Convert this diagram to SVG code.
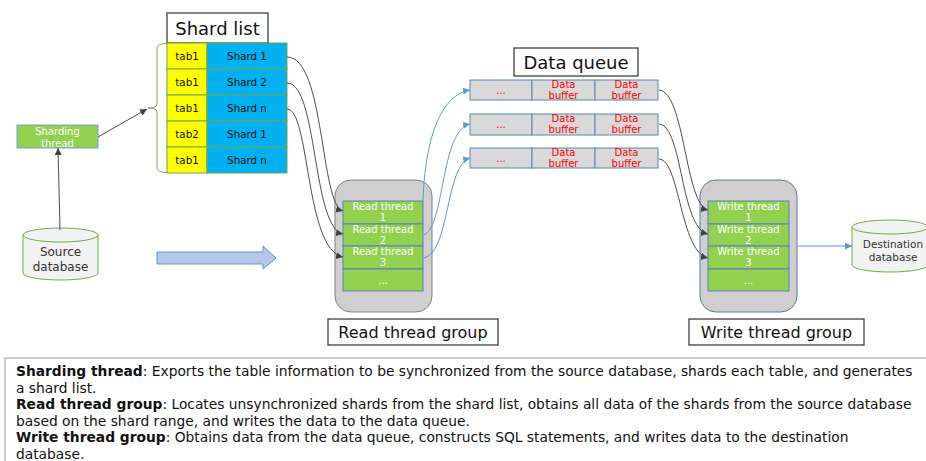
<svg xmlns="http://www.w3.org/2000/svg" width="926" height="461" viewBox="0 0 926 461">
<style>
text{font-family:"DejaVu Sans","Liberation Sans",sans-serif;}
.title{font-size:18px;fill:#111;text-anchor:middle;}
.lbl{font-size:16px;fill:#111;text-anchor:middle;}
.cell{font-size:10.3px;fill:#111;text-anchor:middle;}
.wt{font-size:10px;fill:#fff;text-anchor:middle;}
.red{font-size:10px;fill:#ff0000;text-anchor:middle;}
.db{fill:#333;text-anchor:middle;}
.tbox{fill:#fff;stroke:#404040;stroke-width:1.3;}
.yel{fill:#ffff00;stroke:#6aa84f;stroke-width:1;}
.blu{fill:#00b0f0;stroke:#6aa84f;stroke-width:1;}
.grn{fill:#92d050;stroke:#5b7fbf;stroke-width:1;}
.q{fill:#d9d9d9;stroke:#5b86b8;stroke-width:1;}
.cyl{fill:#f2f2f2;stroke:#70ad47;stroke-width:1;}
.dk{fill:none;stroke:#4d4d4d;stroke-width:1;}
.bl{fill:none;stroke:#5b9bd5;stroke-width:1;}
.desc{font-size:13.8px;fill:#111;}
.b{font-weight:bold;}
</style>
<defs>
<marker id="ad" viewBox="0 0 10 10" refX="10" refY="5" markerWidth="7" markerHeight="7" markerUnits="userSpaceOnUse" orient="auto"><path d="M0,0L10,5L0,10z" fill="#404040"/></marker>
<marker id="ab" viewBox="0 0 10 10" refX="10" refY="5" markerWidth="7" markerHeight="7" markerUnits="userSpaceOnUse" orient="auto"><path d="M0,0L10,5L0,10z" fill="#5b9bd5"/></marker>
</defs>

<g id="shard-list">
<rect class="tbox" x="167" y="13" width="101" height="30"/>
<text class="title" x="217.5" y="35">Shard list</text>
<path d="M167,43.5 Q157,43.5 157,48 L157,104 Q157,108 148,108 Q157,108 157,112 L157,168 Q157,172.5 167,172.5" fill="none" stroke="#70ad47" stroke-width="1"/>
<rect class="yel" x="167" y="43" width="40" height="26"/><rect class="blu" x="207" y="43" width="80" height="26"/>
<rect class="yel" x="167" y="69" width="40" height="26"/><rect class="blu" x="207" y="69" width="80" height="26"/>
<rect class="yel" x="167" y="95" width="40" height="26"/><rect class="blu" x="207" y="95" width="80" height="26"/>
<rect class="yel" x="167" y="121" width="40" height="26"/><rect class="blu" x="207" y="121" width="80" height="26"/>
<rect class="yel" x="167" y="147" width="40" height="26"/><rect class="blu" x="207" y="147" width="80" height="26"/>
<text class="cell" x="187" y="60">tab1</text><text class="cell" x="247" y="60">Shard 1</text>
<text class="cell" x="187" y="86">tab1</text><text class="cell" x="247" y="86">Shard 2</text>
<text class="cell" x="187" y="112">tab1</text><text class="cell" x="247" y="112">Shard n</text>
<text class="cell" x="187" y="138">tab2</text><text class="cell" x="247" y="138">Shard 1</text>
<text class="cell" x="187" y="164">tab1</text><text class="cell" x="247" y="164">Shard n</text>
</g>

<g id="sharding-thread">
<rect x="17" y="125" width="81" height="23" fill="#92d050" stroke="#7f9fcf" stroke-width="1"/>
<text class="wt" x="57.5" y="134.5">Sharding</text>
<text class="wt" x="57.5" y="146.5">thread</text>
</g>

<g id="source-database">
<path class="cyl" d="M23,235 L23,273 A37.5,7 0 0 0 98,273 L98,235 A37.5,7 0 0 0 23,235 Z"/>
<path class="cyl" d="M23,235 A37.5,7 0 0 0 98,235" fill="none"/>
<text class="db" x="60.5" y="255.5" font-size="12">Source</text>
<text class="db" x="60.5" y="270.5" font-size="12">database</text>
</g>

<g id="flow-arrow">
<path d="M157,252 L263,252 L263,246 L276,258 L263,269 L263,264 L157,264 Z" fill="#b4c7e7" stroke="#6d8fc7" stroke-width="1"/>
</g>

<g id="read-thread-group">
<rect x="335" y="180" width="97" height="132" rx="16" fill="#d0cece" stroke="#808080" stroke-width="1"/>
<rect class="grn" x="343" y="201" width="80" height="23"/>
<rect class="grn" x="343" y="224" width="80" height="22"/>
<rect class="grn" x="343" y="246" width="80" height="23"/>
<rect class="grn" x="343" y="269" width="80" height="22"/>
<text class="wt" x="383" y="210">Read thread</text><text class="wt" x="383" y="221">1</text>
<text class="wt" x="383" y="232.5">Read thread</text><text class="wt" x="383" y="243.5">2</text>
<text class="wt" x="383" y="255">Read thread</text><text class="wt" x="383" y="266">3</text>
<text class="wt" x="383" y="284">...</text>
<rect class="tbox" x="328" y="319" width="170" height="26"/>
<text class="lbl" x="413" y="338">Read thread group</text>
</g>

<g id="data-queue">
<rect class="tbox" x="514" y="48" width="124" height="28"/>
<text class="title" x="576" y="68.5">Data queue</text>
<rect class="q" x="470" y="80" width="62" height="20"/><rect class="q" x="532" y="80" width="63" height="20"/><rect class="q" x="595" y="80" width="63" height="20"/>
<rect class="q" x="470" y="114" width="62" height="21"/><rect class="q" x="532" y="114" width="63" height="21"/><rect class="q" x="595" y="114" width="63" height="21"/>
<rect class="q" x="470" y="148" width="62" height="20"/><rect class="q" x="532" y="148" width="63" height="20"/><rect class="q" x="595" y="148" width="63" height="20"/>
<text class="red" x="501" y="94">...</text><text class="red" x="563.5" y="87.5">Data</text><text class="red" x="563.5" y="98.5">buffer</text><text class="red" x="626.5" y="87.5">Data</text><text class="red" x="626.5" y="98.5">buffer</text>
<text class="red" x="501" y="128">...</text><text class="red" x="563.5" y="122">Data</text><text class="red" x="563.5" y="133">buffer</text><text class="red" x="626.5" y="122">Data</text><text class="red" x="626.5" y="133">buffer</text>
<text class="red" x="501" y="162">...</text><text class="red" x="563.5" y="155.5">Data</text><text class="red" x="563.5" y="166.5">buffer</text><text class="red" x="626.5" y="155.5">Data</text><text class="red" x="626.5" y="166.5">buffer</text>
</g>

<g id="write-thread-group">
<rect x="700" y="180" width="97" height="132" rx="16" fill="#d0cece" stroke="#5b7ba8" stroke-width="1"/>
<rect class="grn" x="708" y="201" width="81" height="23"/>
<rect class="grn" x="708" y="224" width="81" height="22"/>
<rect class="grn" x="708" y="246" width="81" height="23"/>
<rect class="grn" x="708" y="269" width="81" height="22"/>
<text class="wt" x="748.5" y="210">Write thread</text><text class="wt" x="748.5" y="221">1</text>
<text class="wt" x="748.5" y="232.5">Write thread</text><text class="wt" x="748.5" y="243.5">2</text>
<text class="wt" x="748.5" y="255">Write thread</text><text class="wt" x="748.5" y="266">3</text>
<text class="wt" x="748.5" y="284">...</text>
<rect class="tbox" x="689" y="319" width="175" height="26"/>
<text class="lbl" x="776.5" y="338">Write thread group</text>
</g>

<g id="destination-database">
<path class="cyl" d="M852,227 L852,265 A38,7 0 0 0 928,265 L928,227 A38,7 0 0 0 852,227 Z"/>
<path class="cyl" d="M852,227 A38,7 0 0 0 928,227" fill="none"/>
<text class="db" x="893" y="248" font-size="10.5">Destination</text>
<text class="db" x="893" y="261" font-size="10.5">database</text>
</g>

<g id="connectors">
<path class="dk" d="M60,230 L58,148" marker-end="url(#ad)"/>
<path class="dk" d="M98,137 L147,109" marker-end="url(#ad)"/>
<path class="dk" d="M287,57 C325,57 320,205 343,211" marker-end="url(#ad)"/>
<path class="dk" d="M287,83 C318,83 312,228 343,234" marker-end="url(#ad)"/>
<path class="dk" d="M287,109 C310,109 305,250 343,257" marker-end="url(#ad)"/>
<path class="bl" d="M423,201 C425,140 440,95 470,90" marker-end="url(#ab)"/>
<path class="bl" d="M423,235 C445,230 440,130 470,124" marker-end="url(#ab)"/>
<path class="bl" d="M423,258 C450,255 445,165 470,158" marker-end="url(#ab)"/>
<path class="dk" d="M659,90 C685,92 685,205 708,210" marker-end="url(#ad)"/>
<path class="dk" d="M659,124 C683,126 680,228 708,234" marker-end="url(#ad)"/>
<path class="dk" d="M659,159 C680,160 680,252 708,258" marker-end="url(#ad)"/>
<path class="bl" d="M797,246 L852,246" marker-end="url(#ab)"/>
</g>

<g id="description">
<rect x="5" y="358" width="925" height="110" fill="#fff" stroke="#999" stroke-width="1"/>
<text class="desc" x="16" y="376"><tspan class="b">Sharding thread</tspan>: Exports the table information to be synchronized from the source database, shards each table, and generates</text>
<text class="desc" x="16" y="392.5">a shard list.</text>
<text class="desc" x="16" y="409"><tspan class="b">Read thread group</tspan>: Locates unsynchronized shards from the shard list, obtains all data of the shards from the source database</text>
<text class="desc" x="16" y="425.5">based on the shard range, and writes the data to the data queue.</text>
<text class="desc" x="16" y="442"><tspan class="b">Write thread group</tspan>: Obtains data from the data queue, constructs SQL statements, and writes data to the destination</text>
<text class="desc" x="16" y="458.5">database.</text>
</g>
</svg>
